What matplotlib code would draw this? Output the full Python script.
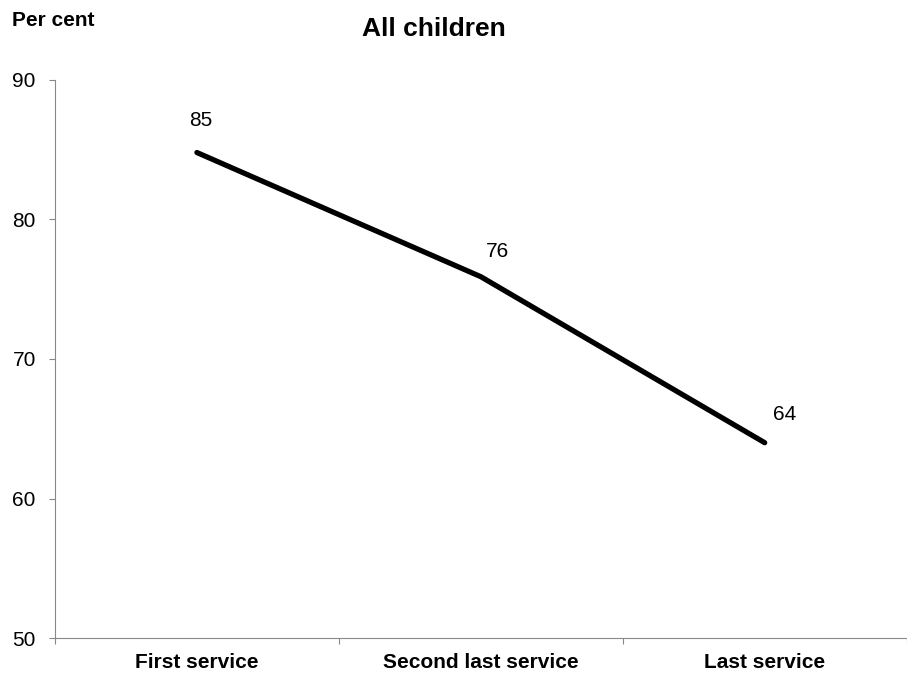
import matplotlib
matplotlib.use('Agg')
import matplotlib.pyplot as plt

plt.rcParams['font.family'] = ['Liberation Sans', 'DejaVu Sans']

categories = ['First service', 'Second last service', 'Last service']
values = [84.8, 75.9, 64.0]
labels = ['85', '76', '64']
label_offsets = [(3, 23), (12, 18), (14, 20)]

fig = plt.figure(figsize=(9.07, 6.75), dpi=100)
ax = fig.add_axes([0.0606, 0.0548, 0.939, 0.8267])

x = [0.5, 1.5, 2.5]
ax.plot(x, values, color='black', linewidth=3.8, solid_capstyle='round')

for xi, v, lab, off in zip(x, values, labels, label_offsets):
    ax.annotate(lab, (xi, v), xytext=off, textcoords='offset points',
                ha='center', va='center', fontsize=15)

ax.set_xlim(0, 3)
ax.set_ylim(50, 90)
ax.set_yticks([50, 60, 70, 80, 90])
ax.set_xticks([0, 1, 2, 3])
ax.set_xticklabels([])
ax.set_xticks(x, minor=True)
ax.set_xticklabels(categories, minor=True, fontsize=15, fontweight='bold')
ax.tick_params(axis='x', which='minor', length=0, pad=11)
ax.tick_params(axis='x', which='major', length=4, color='#888888')
ax.tick_params(axis='y', length=4.3, color='#888888', labelsize=15, pad=9.5)

for s in ['top', 'right']:
    ax.spines[s].set_visible(False)
for s in ['left', 'bottom']:
    ax.spines[s].set_color('#888888')

fig.text(0.478, 0.957, 'All children', ha='center', va='center', fontsize=19, fontweight='bold')
fig.text(0.013, 0.969, 'Per cent', ha='left', va='center', fontsize=15, fontweight='bold')

plt.savefig('out.png', dpi=100)
